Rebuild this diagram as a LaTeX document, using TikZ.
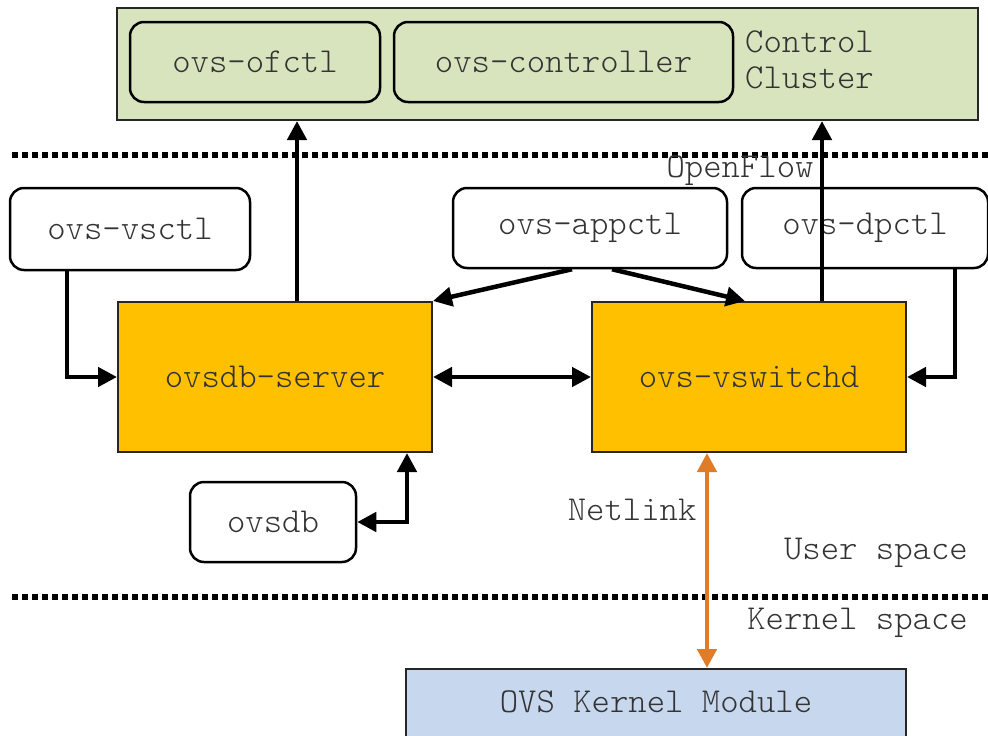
\documentclass[tikz,border=0pt]{standalone}
\usepackage{fontspec}
\setmonofont{Latin Modern Mono Light}
\usetikzlibrary{arrows.meta}
\definecolor{clustergreen}{HTML}{D7E4BD}
\definecolor{daemonorange}{HTML}{FFC000}
\definecolor{kernelblue}{HTML}{C6D7EE}
\definecolor{netlinkorange}{HTML}{E07B28}
\definecolor{labelgray}{HTML}{333333}
\begin{document}
\begin{tikzpicture}[x=1pt,y=-1pt,
  every node/.style={font=\ttfamily\fontsize{35}{36}\selectfont,text=labelgray},
  tool/.style={draw=black,line width=2.5pt,rounded corners=14pt,fill=white,minimum height=80pt},
  daemon/.style={draw=black!85,line width=2pt,fill=daemonorange,minimum width=314pt,minimum height=150pt},
  link/.style={line width=4.5pt,-{Triangle[length=19pt,width=19pt]}},
  twoway/.style={line width=4.5pt,{Triangle[length=19pt,width=19pt]}-{Triangle[length=19pt,width=19pt]}},
  sep/.style={line width=6pt,dash pattern=on 6pt off 4pt}]
\clip (0,0) rectangle (988,736);

% control cluster
\node[draw=black!85,line width=2pt,fill=clustergreen,minimum width=861pt,minimum height=112pt] (cluster) at (547.5,64) {};
\node[tool,fill=clustergreen,minimum width=250pt] (ofctl) at (255,62) {ovs-ofctl};
\node[tool,fill=clustergreen,minimum width=339pt] (controller) at (563.5,62) {ovs-controller};
\node[align=left,anchor=west,inner sep=0pt] (clusterlabel) at (745,60) {Control\\Cluster};

\draw[sep] (12,155) -- (988,155);
\node (openflow) at (740,171) {OpenFlow};

% user space tools
\node[tool,minimum width=240pt,minimum height=82pt] (vsctl) at (130,229) {ovs-vsctl};
\node[tool,minimum width=274pt] (appctl) at (590,228) {ovs-appctl};
\node[tool,minimum width=246pt] (dpctl) at (865,228) {ovs-dpctl};

% daemons
\node[daemon] (server) at (275,377) {ovsdb-server};
\node[daemon] (vswitchd) at (749,377) {ovs-vswitchd};
\node[tool,minimum width=166pt] (ovsdb) at (273,522) {ovsdb};

\draw[sep] (12,597) -- (988,597);
\node[anchor=east,inner sep=0pt] (userlabel) at (968,553) {User space};
\node[anchor=east,inner sep=0pt] (kernellabel) at (968,623) {Kernel space};

\node[draw=black!85,line width=2pt,fill=kernelblue,minimum width=500pt,minimum height=110pt,anchor=north] (kernel) at (656,668) {};
\node (kernellbl) at (656,702) {OVS Kernel Module};

% connections
\draw[link] ([xshift=22pt]server.north) -- ([xshift=22pt]server.north |- cluster.south);
\draw[link] ([xshift=73pt]vswitchd.north) -- ([xshift=73pt]vswitchd.north |- cluster.south);
\draw[link] ([xshift=-63pt]vsctl.south) |- (server.west);
\draw[link] ([xshift=90pt]dpctl.south) |- (vswitchd.east);
\draw[link] ([xshift=-18pt]appctl.south) -- (server.north east);
\draw[link] ([xshift=22pt]appctl.south) -- ([xshift=-4pt]vswitchd.north);
\draw[twoway] (server.east) -- (vswitchd.west);
\draw[twoway] (ovsdb.east) -| ([xshift=132pt]server.south);
\draw[twoway,draw=netlinkorange,fill=netlinkorange] ([xshift=-42pt]vswitchd.south) -- ([xshift=-42pt]vswitchd.south |- kernel.north);
\node[anchor=east] (netlinklabel) at (700,510) {Netlink};
\end{tikzpicture}
\end{document}
